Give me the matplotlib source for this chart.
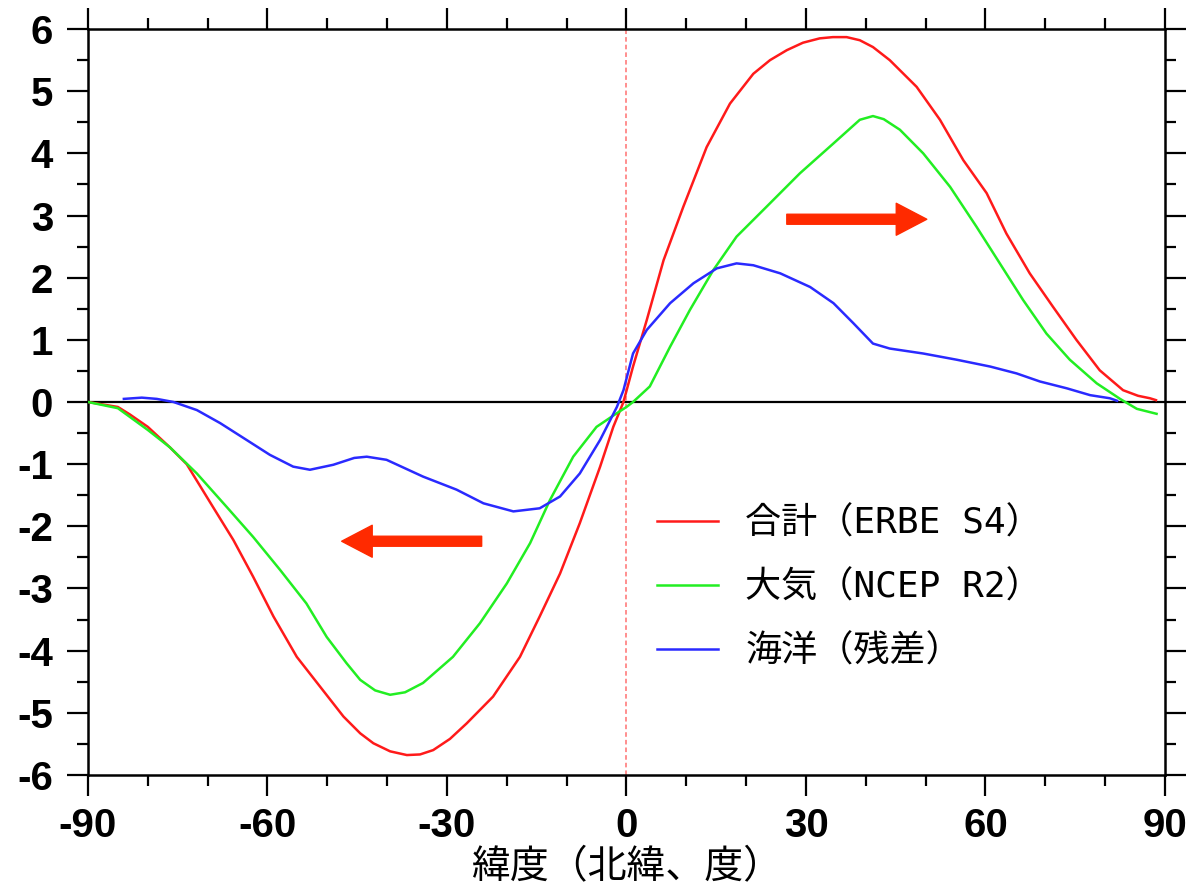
import matplotlib
matplotlib.use("Agg")
import matplotlib.pyplot as plt
from matplotlib.font_manager import FontProperties
from matplotlib.patches import FancyArrowPatch
from matplotlib.ticker import MultipleLocator

plt.rcParams["axes.unicode_minus"] = False

# 合計 (ERBE S4)
total_lat = [-90, -85, -83, -80, -76.3, -73.5, -69.1, -65.7, -62.4, -59, -55.1, -51.2,
             -47.3, -44.5, -42.3, -39.5, -36.7, -34.5, -32.3, -29.5, -26.7, -22.3, -17.8,
             -14.5, -11.1, -7.8, -4.4, -2.2, -0.5, 1.1, 3.4, 6.2, 9.5, 13.4, 17.3, 21.2,
             24, 26.8, 29.5, 32.3, 34.5, 36.8, 39, 41.2, 44, 48.5, 52.4, 56.3, 60.2,
             63.5, 67.4, 71.3, 75.2, 79.1, 83, 85.5, 87.5, 88.5]
total_val = [0, -0.08, -0.2, -0.4, -0.73, -1.0, -1.69, -2.22, -2.81, -3.45, -4.1, -4.58,
             -5.06, -5.33, -5.49, -5.62, -5.68, -5.67, -5.6, -5.42, -5.17, -4.74, -4.1,
             -3.45, -2.76, -1.95, -1.04, -0.4, 0.0, 0.57, 1.32, 2.28, 3.14, 4.1, 4.8, 5.28,
             5.5, 5.66, 5.78, 5.85, 5.87, 5.87, 5.82, 5.71, 5.5, 5.07, 4.54, 3.89, 3.36,
             2.71, 2.07, 1.53, 1.0, 0.51, 0.19, 0.1, 0.06, 0.03]

# 大気 (NCEP R2)
atmos_lat = [-90, -85, -83, -80, -76.3, -71.8, -66.8, -62.4, -57.9, -53.5, -50.1, -46.8,
             -44.5, -42, -39.5, -37, -34, -29, -24.5, -20, -16.1, -12.8, -8.9, -5.0, -1.6,
             0, 1.1, 3.9, 7.3, 10.6, 14.5, 18.4, 23.4, 29, 34.6, 39, 41.2, 43,
             45.7, 49.6, 54.1, 58.5, 62.4, 66.3, 70.2, 74.1, 78.6, 82.5, 85.3, 88.6]
atmos_val = [0, -0.1, -0.24, -0.45, -0.73, -1.15, -1.69, -2.17, -2.7, -3.24, -3.78, -4.2,
             -4.47, -4.64, -4.71, -4.67, -4.52, -4.1, -3.56, -2.92, -2.27, -1.58, -0.88, -0.4,
             -0.18, -0.08, 0.0, 0.25, 0.89, 1.48, 2.12, 2.66, 3.14, 3.68, 4.16, 4.54, 4.6, 4.55,
             4.38, 4.0, 3.46, 2.82, 2.23, 1.64, 1.1, 0.68, 0.3, 0.05, -0.11, -0.19]

# 海洋 (残差)
ocean_lat = [-84, -81, -78.5, -75.7, -71.8, -67.9, -63.5, -59.6, -55.7, -52.9, -49, -45.5,
             -43.4, -40.1, -34, -28.4, -23.9, -18.9, -14.5, -11.1, -7.8, -4.4, -1.6, -0.5,
             1.1, 3.4, 7.3, 11.2, 15.1, 18.4, 21.2, 25.7, 30.7, 34.6, 37.9, 41.2, 44,
             49.6, 55.2, 60.8, 65.2, 69.1, 73.6, 77.5, 80.8, 82]
ocean_val = [0.05, 0.07, 0.05, 0.0, -0.13, -0.34, -0.61, -0.85, -1.04, -1.09, -1.01, -0.9,
             -0.88, -0.93, -1.2, -1.41, -1.63, -1.76, -1.71, -1.52, -1.15, -0.61, -0.08, 0.19,
             0.78, 1.16, 1.59, 1.91, 2.15, 2.23, 2.2, 2.07, 1.85, 1.59, 1.27, 0.94, 0.86,
             0.78, 0.68, 0.57, 0.46, 0.33, 0.22, 0.11, 0.06, 0.02]

labels = ["合計（ERBE S4）", "大気（NCEP R2）", "海洋（残差）"]
colors = ["#ff1a1a", "#22ee22", "#2a2aff"]

TICK_FONT = FontProperties(family="Liberation Sans", size=29, weight="bold")
JP_FONT = ["Noto Sans CJK JP", "DejaVu Sans"]
LEGEND_FONT = ["DejaVu Sans Mono", "Noto Sans CJK JP"]

fig = plt.figure(figsize=(11.92, 8.88), dpi=100)
ax = fig.add_axes([0.0738, 0.1273, 0.9035, 0.84])

ax.axhline(0, color="black", lw=1.6, zorder=1)
ax.axvline(0, color="#ff7070", lw=1.1, ls=(0, (3, 2)), zorder=1)

series = [(total_lat, total_val), (atmos_lat, atmos_val), (ocean_lat, ocean_val)]
for (lat, val), lab, col in zip(series, labels, colors):
    ax.plot(lat, val, color=col, lw=1.8, label=lab, zorder=3)

# direction arrows
arrow_kw = dict(arrowstyle="simple,head_length=22,head_width=23,tail_width=7.2",
                mutation_scale=1, color="#ff2a00", shrinkA=0, shrinkB=0, zorder=4)
ax.add_patch(FancyArrowPatch((26.8, 2.94), (50.2, 2.94), **arrow_kw))
ax.add_patch(FancyArrowPatch((-24.2, -2.24), (-47.6, -2.24), **arrow_kw))

ax.set_xlim(-90, 90)
ax.set_ylim(-6, 6)
ax.xaxis.set_major_locator(MultipleLocator(30))
ax.xaxis.set_minor_locator(MultipleLocator(10))
ax.yaxis.set_major_locator(MultipleLocator(1))
ax.yaxis.set_minor_locator(MultipleLocator(0.5))
ax.tick_params(which="both", direction="out", top=True, right=True, width=1.6,
               colors="black")
ax.tick_params(which="major", length=15, pad=10)
ax.tick_params(axis="x", which="major", pad=8)
ax.tick_params(which="minor", length=8)
for lbl in ax.get_xticklabels() + ax.get_yticklabels():
    lbl.set_fontproperties(TICK_FONT)
for sp in ax.spines.values():
    sp.set_linewidth(1.8)

ax.set_xlabel("緯度（北緯、度）", family=JP_FONT, fontsize=28)
ax.xaxis.set_label_coords(0.5, -0.124)
ax.xaxis.label.set_va("center")

ax.legend(loc="upper left", bbox_to_anchor=(0.528, 0.36), frameon=False,
          prop=dict(family=LEGEND_FONT, size=26), handlelength=1.7, handletextpad=0.75,
          labelspacing=0.82, borderpad=0, borderaxespad=0)

fig.savefig("out.png", dpi=100)
